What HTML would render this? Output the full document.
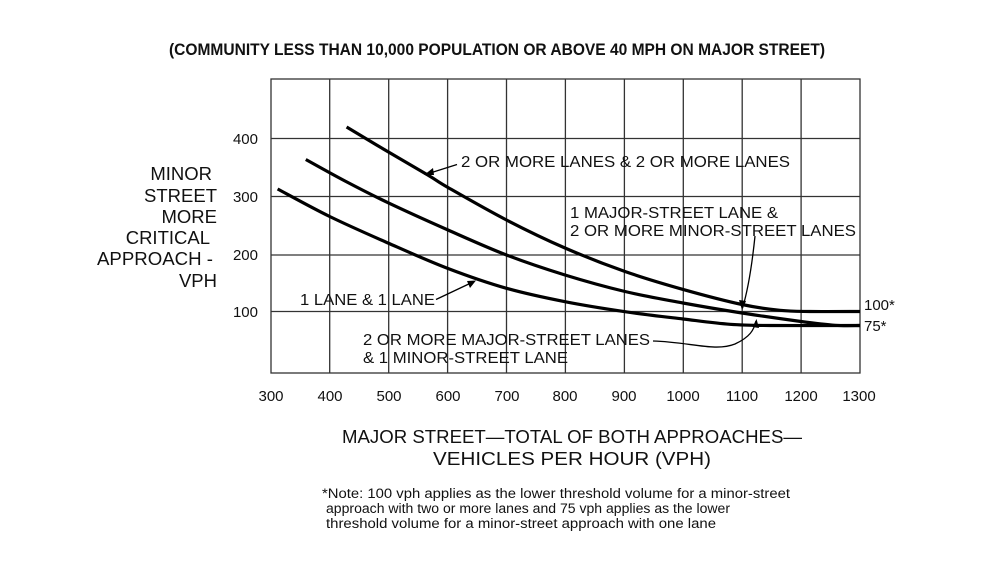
<!DOCTYPE html>
<html><head><meta charset="utf-8"><style>
html,body{margin:0;padding:0;background:#fff;}
svg{display:block;}
text{font-family:"Liberation Sans",Arial,sans-serif;fill:#111;}
</style></head><body>
<svg width="1000" height="569" viewBox="0 0 1000 569" xmlns="http://www.w3.org/2000/svg">
<text x="497" y="55" text-anchor="middle" font-size="16.5" font-weight="bold" textLength="656" lengthAdjust="spacingAndGlyphs">(COMMUNITY LESS THAN 10,000 POPULATION OR ABOVE 40 MPH ON MAJOR STREET)</text>
<g stroke="#333" stroke-width="1.3" fill="none">
<rect x="271" y="79" width="589" height="294"/>
<path d="M329.7 79V373M388.7 79V373M447.6 79V373M506.5 79V373M565.4 79V373M624.4 79V373M683.3 79V373M742.2 79V373M801.1 79V373"/>
<path d="M271 138.5H860M271 196.5H860M271 255H860M271 311.5H860"/>
</g>
<g font-size="15">
<text x="258" y="144" text-anchor="end">400</text>
<text x="258" y="202" text-anchor="end">300</text>
<text x="258" y="260" text-anchor="end">200</text>
<text x="258" y="317" text-anchor="end">100</text>
<g text-anchor="middle">
<text x="271" y="401">300</text><text x="330" y="401">400</text><text x="389" y="401">500</text><text x="448" y="401">600</text><text x="507" y="401">700</text><text x="565" y="401">800</text><text x="624" y="401">900</text><text x="683" y="401">1000</text><text x="742" y="401">1100</text><text x="801" y="401">1200</text><text x="859" y="401">1300</text>
</g>
<text x="864" y="310">100*</text>
<text x="864" y="331">75*</text>
</g>
<g font-size="18.5" text-anchor="end">
<text x="212" y="180">MINOR</text>
<text x="217" y="202">STREET</text>
<text x="217" y="223">MORE</text>
<text x="210" y="244">CRITICAL</text>
<text x="213" y="265" textLength="116" lengthAdjust="spacingAndGlyphs">APPROACH -</text>
<text x="217" y="287">VPH</text>
</g>
<g stroke="#000" stroke-width="3.2" fill="none" stroke-linejoin="round">
<path id="c1"/><path id="c2"/><path id="c3"/>
</g>
<g stroke="#000" stroke-width="1.3" fill="none">
<path d="M457 164.5 L427 174"/>
<path d="M755 236 C752 265 748 290 742.5 308"/>
<path d="M436 299.5 L473 282"/>
<path d="M653 341 C690 342 715 352 735 344 C750 337 754 330 756 321"/>
</g>
<g fill="#000">
<path d="M424 175 L433 168 L434 175 Z"/>
<path d="M742 310 L739 300 L746 301 Z"/>
<path d="M476 280.5 L470 288 L467 281 Z"/>
<path d="M756.5 319 L759 328 L752.5 327 Z"/>
</g>
<g font-size="16">
<text x="461" y="167" textLength="329" lengthAdjust="spacingAndGlyphs">2 OR MORE LANES &amp; 2 OR MORE LANES</text>
<text x="570" y="218" textLength="208" lengthAdjust="spacingAndGlyphs">1 MAJOR-STREET LANE &amp;</text>
<text x="570" y="236" textLength="286" lengthAdjust="spacingAndGlyphs">2 OR MORE MINOR-STREET LANES</text>
<text x="300" y="305" textLength="135" lengthAdjust="spacingAndGlyphs">1 LANE &amp; 1 LANE</text>
<text x="363" y="345" textLength="287" lengthAdjust="spacingAndGlyphs">2 OR MORE MAJOR-STREET LANES</text>
<text x="363" y="363" textLength="205" lengthAdjust="spacingAndGlyphs">&amp; 1 MINOR-STREET LANE</text>
</g>
<g font-size="18.5" text-anchor="middle">
<text x="572" y="443" textLength="460" lengthAdjust="spacingAndGlyphs">MAJOR STREET—TOTAL OF BOTH APPROACHES—</text>
<text x="572" y="465" textLength="278" lengthAdjust="spacingAndGlyphs">VEHICLES PER HOUR (VPH)</text>
</g>
<g font-size="13.5">
<text x="322" y="498" textLength="468" lengthAdjust="spacingAndGlyphs">*Note: 100 vph applies as the lower threshold volume for a minor-street</text>
<text x="326" y="513" textLength="404" lengthAdjust="spacingAndGlyphs">approach with two or more lanes and 75 vph applies as the lower</text>
<text x="326" y="528" textLength="390" lengthAdjust="spacingAndGlyphs">threshold volume for a minor-street approach with one lane</text>
</g>
</svg>
<script>
function cr(p){var d="M"+p[0][0]+" "+p[0][1];for(var i=0;i<p.length-1;i++){var p0=p[i-1]||p[i],p1=p[i],p2=p[i+1],p3=p[i+2]||p2;
d+=" C"+(p1[0]+(p2[0]-p0[0])/6)+" "+(p1[1]+(p2[1]-p0[1])/6)+" "+(p2[0]-(p3[0]-p1[0])/6)+" "+(p2[1]-(p3[1]-p1[1])/6)+" "+p2[0]+" "+p2[1];}return d;}
document.getElementById("c1").setAttribute("d",cr([[346.6,127],[380,147],[427.8,175],[448,187.5],[506.5,220],[565,248],[625,271.5],[683,289.4],[742,304.5],[780,310.3],[810,311.5],[860,311.5]]));
document.getElementById("c2").setAttribute("d",cr([[305.8,159.5],[345,181],[388,202.7],[448,230],[506.5,255],[565,275],[625,291.5],[683,303],[742,313],[801,321.5],[835,325.3],[860,325.5]]));
document.getElementById("c3").setAttribute("d",cr([[277.6,189],[329.7,216.5],[388,243],[448,268.5],[506.5,288.3],[565,301.7],[625,311.7],[683,319],[730,324.3],[770,325.5],[860,325.5]]));
</script>
</body></html>
